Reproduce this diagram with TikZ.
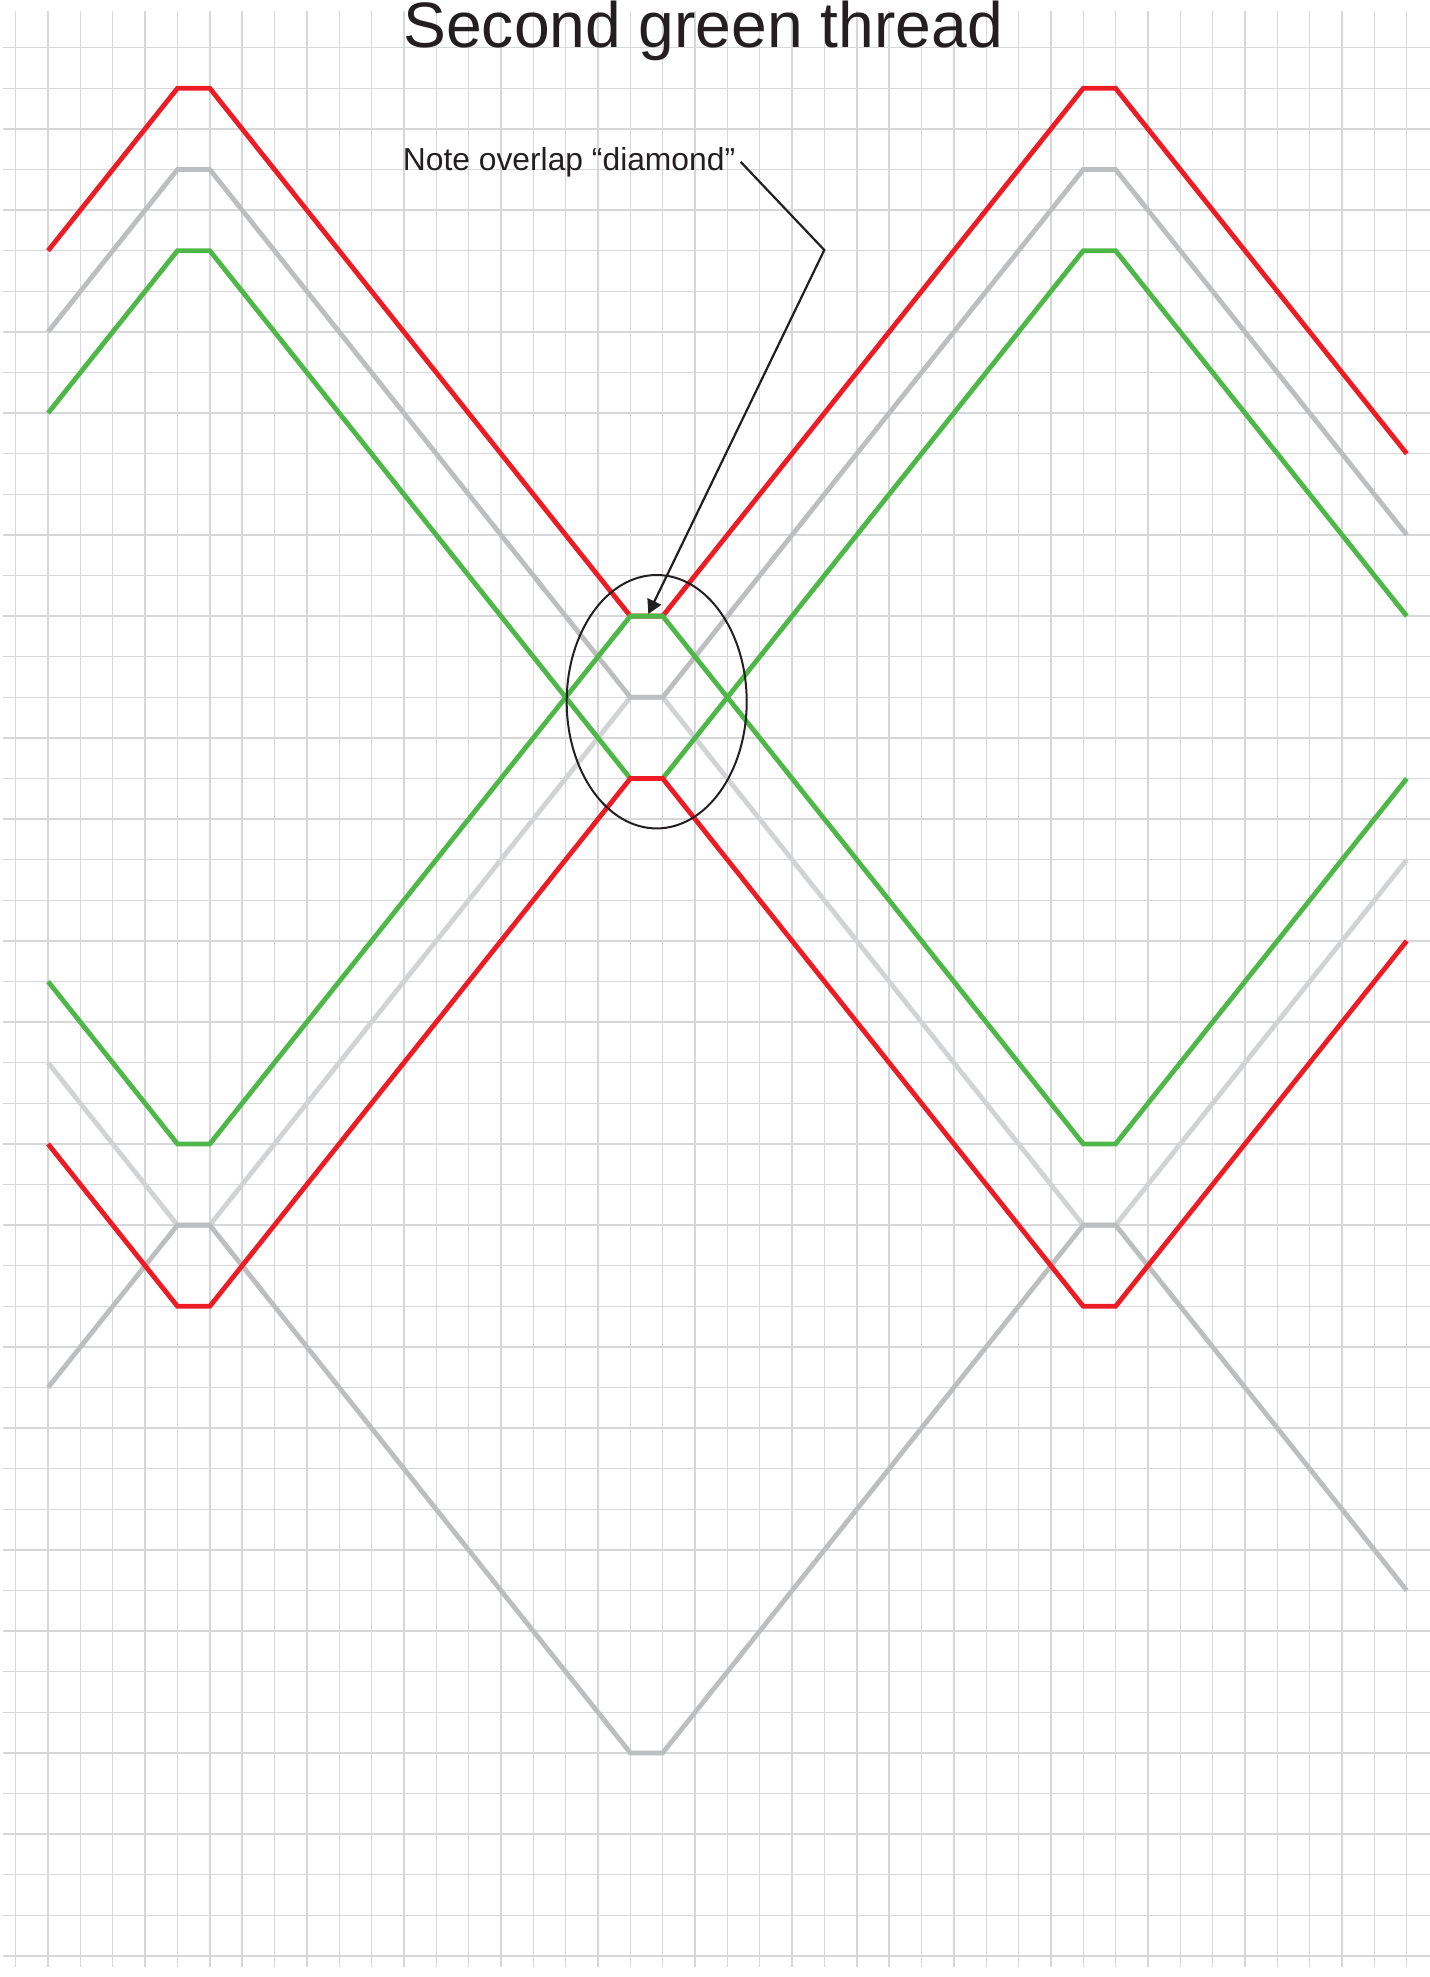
\documentclass[tikz,border=0pt]{standalone}
\usepackage{fontspec}
\setmainfont{Liberation Sans}
\usepackage{xcolor}
\usetikzlibrary{arrows.meta, calc}

\definecolor{threadred}{HTML}{ED1C24}
\definecolor{threadgreen}{HTML}{4DB848}
\definecolor{threadgray}{HTML}{BCBEC0}
\definecolor{threadlight}{HTML}{D1D3D4}
\definecolor{gridgray}{HTML}{D6D7D8}
\definecolor{inkblack}{HTML}{231F20}

\begin{document}
\begin{tikzpicture}[
    x=0.5pt, y=-0.5pt,
    gridline/.style={draw=gridgray, line width=0.7pt},
    thread/.style={line width=2.4pt},
    pointer/.style={-{Triangle[length=7pt, width=7.5pt]}, draw=inkblack, line width=1.1pt},
    notetext/.style={inner sep=0pt, anchor=base west, text=inkblack}
]
    \useasboundingbox (0,0) rectangle (1430,1977);

    % Grid paper (one cell is 32.35 x 40.6)
    \begin{scope}[shift={(15.7,47.7)}, x=16.175pt, y=-20.3pt]
        \foreach \c in {0,...,43}
            \draw[gridline] (\c,-0.91) -- (\c,47.27);
        \foreach \r in {0,...,47}
            \draw[gridline] (-0.38,\r) -- (43.72,\r);

        % Threads: colour / start row / direction of first run
        \foreach \col/\a/\s in {threadlight/25/-1, threadred/5/1, threadgreen/9/1, threadgray/7/1,
                                threadgray/33/1, threadgreen/23/-1, threadred/27/-1}
            \draw[thread, draw=\col] (1,\a) -- ++(4,-4*\s) -- ++(1,0) -- ++(13,13*\s) -- ++(1,0)
                -- ++(13,-13*\s) -- ++(1,0) -- ++(9,9*\s);
    \end{scope}

    % Title and note
    \node[notetext, font=\fontsize{32.1}{38}\selectfont] (title) at (403,47) {Second green thread};
    \node[notetext, font=\fontsize{15.9}{19}\selectfont] (note) at (402.5,170) {Note overlap “diamond”};

    % Pointer to the overlap
    \coordinate (bend) at (824.3,250);
    \coordinate (tip) at (648.3,614);
    \draw[draw=inkblack, line width=1pt] (656.7,701.7) ellipse [x radius=90, y radius=126.7];
    \draw[pointer] ([xshift=2.5pt]note.east) -- (bend) -- (tip);
\end{tikzpicture}
\end{document}
